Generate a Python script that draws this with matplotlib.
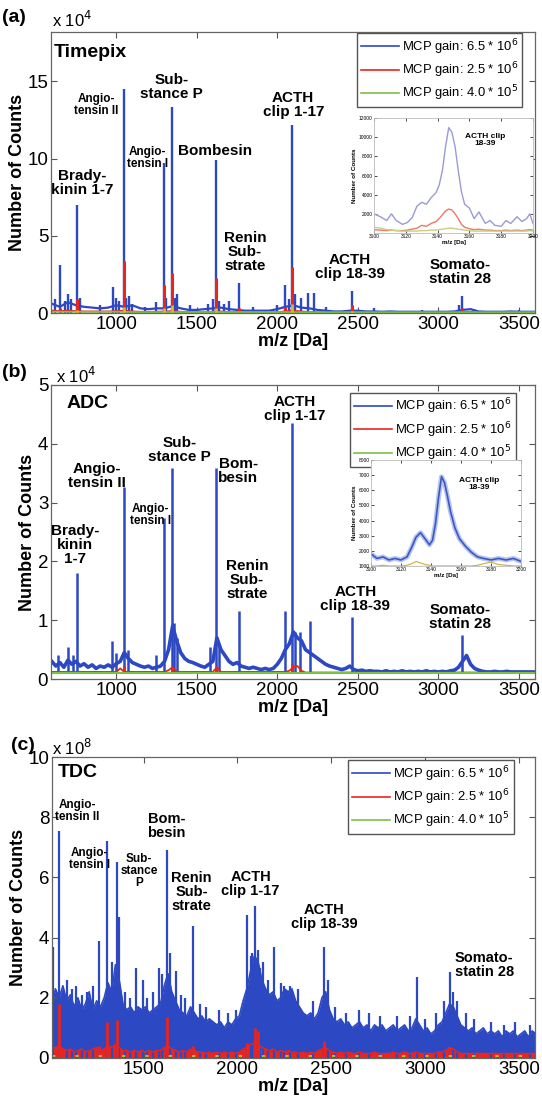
import numpy as np
import matplotlib
matplotlib.use("Agg")
import matplotlib.pyplot as plt
from matplotlib.lines import Line2D

plt.rcParams['font.family'] = ['Liberation Sans', 'DejaVu Sans']

# ---------------- colours / labels ----------------
BLUE, RED, GREEN = '#2c48c2', '#e8251f', '#7cc142'
legend_labels = ['MCP gain: 6.5 * 10$^6$', 'MCP gain: 2.5 * 10$^6$', 'MCP gain: 4.0 * 10$^5$']

# ================= Panel (a) Timepix (x 10^4) =================
a_base_mz = np.arange(600, 3601, 50)
a_blue_base = [0.6, 0.4, 0.7, 0.5, 0.4, 0.35, 0.3, 0.35, 0.5, 0.4, 0.5, 0.3, 0.25, 0.3, 0.3, 0.45,
               0.3, 0.2, 0.2, 0.25, 0.3, 0.35, 0.25, 0.2, 0.15, 0.15, 0.15, 0.15, 0.25, 0.4, 0.5, 0.35,
               0.3, 0.2, 0.15, 0.1, 0.1, 0.15, 0.15, 0.1, 0.1, 0.08, 0.1, 0.08, 0.08, 0.08, 0.08, 0.08,
               0.08, 0.08, 0.1, 0.2, 0.25, 0.1, 0.08, 0.08, 0.08, 0.1, 0.08, 0.08, 0.08]
a_red_base = [0.15, 0.12, 0.15, 0.12, 0.1, 0.1, 0.1, 0.1, 0.12, 0.15, 0.1, 0.08, 0.08, 0.08, 0.1, 0.12,
              0.08, 0.06, 0.06, 0.06, 0.08, 0.1, 0.06, 0.06, 0.05, 0.05, 0.05, 0.05, 0.06, 0.1, 0.15, 0.1,
              0.06, 0.05, 0.05, 0.04, 0.04, 0.05, 0.05, 0.04, 0.04, 0.04, 0.04, 0.04, 0.04, 0.04, 0.04, 0.04,
              0.04, 0.04, 0.04, 0.06, 0.08, 0.04, 0.04, 0.04, 0.04, 0.04, 0.04, 0.04, 0.04]
a_green_base = [0.08] * 10 + [0.06] * 20 + [0.05] * 31
a_blue_pk_mz = [620, 650, 680, 700, 720, 757, 775, 900, 980, 1000, 1020, 1046, 1062, 1080, 1100, 1180,
                1250, 1296, 1312, 1348, 1365, 1380, 1460, 1570, 1600, 1620, 1640, 1670, 1700, 1760,
                1850, 2000, 2050, 2070, 2093, 2110, 2150, 2192, 2228, 2300, 2465, 2600, 2900, 3130,
                3147, 3500]
a_blue_pk_h = [0.9, 3.1, 0.8, 1.2, 0.9, 7.0, 1.0, 0.5, 1.7, 1.0, 0.8, 14.5, 1.0, 1.1, 0.6, 0.4,
               0.7, 9.7, 1.0, 13.35, 1.0, 1.2, 0.5, 0.6, 0.9, 9.9, 0.8, 0.6, 0.8, 1.95,
               0.4, 0.5, 1.8, 0.9, 12.2, 1.2, 1.0, 1.3, 1.3, 0.4, 1.45, 0.3, 0.2, 0.5,
               1.1, 0.2]
a_red_pk_mz = [650, 757, 1046, 1296, 1348, 1620, 1760, 2050, 2093, 2465, 3147]
a_red_pk_h = [0.3, 0.9, 3.35, 1.8, 2.6, 2.25, 0.35, 0.4, 3.0, 0.5, 0.3]
a_green_pk_mz = [757, 1046, 1296, 1348, 1620, 2093, 2465]
a_green_pk_h = [0.2, 0.4, 0.3, 0.5, 0.3, 0.6, 0.15]

# inset (a)
ia_mz = [3100, 3104, 3108, 3111, 3114, 3118, 3121, 3124, 3127, 3130, 3133, 3136, 3139, 3141, 3143,
         3145, 3147, 3149, 3151, 3153, 3155, 3157, 3160, 3163, 3166, 3170, 3173, 3176, 3180, 3183,
         3186, 3190, 3193, 3196, 3198, 3200]
ia_blue = [2000, 1700, 1300, 2000, 1300, 900, 1100, 1600, 2800, 3200, 3000, 3700, 4200, 5000, 6500,
           9000, 11000, 10500, 9000, 6500, 4300, 3000, 2600, 1500, 2200, 1000, 1300, 800, 700, 1300,
           1000, 1700, 1200, 1500, 2000, 1000]
ia_red = [350, 300, 250, 300, 250, 250, 300, 400, 500, 800, 700, 1000, 1200, 1500, 1900,
          2300, 2500, 2400, 2000, 1500, 900, 600, 450, 350, 400, 300, 300, 250, 250, 300,
          250, 300, 250, 300, 350, 300]
ia_green = [600, 500, 350, 300, 250, 200, 200, 200, 200, 250, 250, 300, 300, 350, 400,
            450, 500, 500, 450, 400, 350, 300, 250, 200, 200, 200, 200, 200, 200, 200,
            200, 200, 200, 200, 250, 200]

# ================= Panel (b) ADC (x 10^4) =================
b_base_mz = np.arange(600, 3601, 25)
b_blue_base = [0.3, 0.22, 0.28, 0.2, 0.32, 0.25, 0.3, 0.22, 0.26, 0.2, 0.24, 0.18, 0.22, 0.2, 0.24, 0.2, 0.26,
               0.3, 0.45, 0.35, 0.28, 0.25, 0.22, 0.2, 0.22, 0.18, 0.2, 0.22, 0.3,
               0.5, 0.9, 0.65, 0.45, 0.35, 0.3, 0.28, 0.25, 0.22, 0.2, 0.25, 0.3,
               0.7, 0.5, 0.4, 0.3, 0.25, 0.28, 0.22, 0.2, 0.18, 0.2, 0.18, 0.16, 0.18, 0.16, 0.18, 0.25,
               0.35, 0.5, 0.6, 0.8, 0.7, 0.65, 0.5, 0.45, 0.4, 0.35, 0.3, 0.25,
               0.22, 0.2, 0.18, 0.16, 0.18, 0.22, 0.16, 0.14, 0.15, 0.13, 0.14, 0.13,
               0.13, 0.12, 0.14, 0.12, 0.13, 0.12, 0.14, 0.12, 0.13, 0.12, 0.13, 0.12, 0.14, 0.12, 0.13, 0.12,
               0.13, 0.12, 0.14, 0.15, 0.2, 0.3, 0.4, 0.25, 0.18, 0.15, 0.13, 0.12,
               0.12, 0.13, 0.12, 0.12, 0.13, 0.12, 0.12, 0.12, 0.12, 0.12, 0.12, 0.12]
b_red_base = [0.12] * 17 + [0.18] + [0.12] * 11 + [0.15, 0.2] + [0.12] * 10 + [0.2] + [0.12] * 17\
             + [0.14, 0.2, 0.22, 0.14] + [0.11] * 58
b_green_base = [0.1] * 121
b_blue_pk_mz = [640, 700, 730, 757, 975, 1000, 1046, 1070, 1250, 1296, 1348, 1360, 1380, 1580, 1620,
                1640, 1760, 2050, 2093, 2110, 2140, 2200, 2465, 3147]
b_blue_pk_h = [0.4, 0.55, 0.4, 1.8, 0.65, 0.45, 3.27, 0.5, 0.4, 2.73, 3.58, 0.95, 0.7, 0.55, 3.58,
               0.6, 1.15, 1.15, 4.35, 0.8, 0.8, 0.98, 1.06, 0.74]
b_red_pk_mz = [1046, 1348, 1620, 2093]
b_red_pk_h = [0.22, 0.2, 0.2, 0.25]

# inset (b)
ib_mz = [3100, 3104, 3108, 3112, 3116, 3120, 3124, 3127, 3130, 3133, 3136, 3139, 3141, 3143, 3145,
         3147, 3149, 3151, 3153, 3156, 3159, 3163, 3167, 3171, 3175, 3180, 3185, 3190, 3195, 3200]
ib_blue = [1800, 1500, 1600, 1400, 1500, 1400, 1600, 2200, 2900, 3200, 2800, 2400, 2700, 3800, 5500,
           6900, 6500, 5600, 4600, 3500, 2800, 2300, 1900, 1600, 1500, 1400, 1500, 1400, 1500, 1300]
ib_red = [1020] * 30
ib_green = [1000, 1000, 1050, 1000, 1000, 1000, 1050, 1150, 1300, 1200, 1100, 1050, 1000, 1000, 1000,
            1000, 1000, 1000, 1000, 1000, 1000, 1000, 1000, 1050, 1150, 1250, 1100, 1050, 1000, 1000]

# ================= Panel (c) TDC (x 10^8) =================
c_base_mz = np.arange(1010, 3600, 20)
c_blue_env = [1.6, 2.3, 2.0, 2.4, 1.9, 2.1, 1.7, 2.0, 1.6, 1.8, 2.2, 1.6, 1.9, 1.7, 2.0, 2.5, 2.2, 3.1,
              2.6, 1.8, 1.6, 1.7, 1.5, 1.7, 1.6, 1.7, 1.5, 1.6, 1.7, 1.8, 2.4, 2.8, 2.2, 1.9, 1.6, 1.5,
              1.4, 1.7, 1.5, 1.3, 1.4, 1.2, 1.3, 1.2, 1.1, 1.2, 1.0, 1.2, 1.1, 1.3, 1.4, 1.9, 2.3, 2.9,
              3.4, 3.2, 2.6, 2.3, 2.1, 2.2, 1.9, 2.0, 2.3, 2.2, 2.3, 1.9, 1.7, 1.5, 1.4, 1.5, 1.3, 1.5,
              2.0, 2.2, 1.6, 1.3, 1.2, 1.3, 1.1, 1.2, 1.0, 1.1, 1.2, 1.0, 1.1, 0.9, 1.1, 1.0, 1.1, 0.9,
              1.0, 1.1, 0.9, 1.0, 1.1, 0.9, 1.0, 1.3, 1.1, 0.9, 1.0, 0.8, 0.9, 1.1, 1.2, 1.5, 1.8, 1.7,
              1.4, 1.1, 1.0, 0.9, 1.0, 0.8, 0.9, 1.0, 0.8, 0.9, 0.8, 0.9, 0.7, 0.9, 0.8, 0.9, 0.7, 0.8,
              0.9, 0.7, 0.9, 0.8]
c_red_env = [0.3, 0.35, 0.4, 0.3, 0.25, 0.3, 0.2, 0.25, 0.3, 0.2, 0.25, 0.3, 0.35, 0.25, 0.3, 0.4, 0.35, 0.45,
             0.35, 0.25, 0.25, 0.2, 0.25, 0.2, 0.25, 0.2, 0.25, 0.2, 0.25, 0.25, 0.35, 0.4, 0.3, 0.25, 0.2, 0.25,
             0.2, 0.3, 0.25, 0.2, 0.2, 0.15, 0.2, 0.15, 0.2, 0.15, 0.2, 0.15, 0.2, 0.15, 0.2, 0.3, 0.35, 0.45,
             0.5, 0.45, 0.35, 0.3, 0.25, 0.3, 0.2, 0.25, 0.2, 0.25, 0.2, 0.2, 0.15, 0.2, 0.15, 0.2, 0.15, 0.25,
             0.3, 0.35, 0.25, 0.2, 0.15, 0.2, 0.15, 0.2, 0.15, 0.15, 0.2, 0.15, 0.15, 0.15, 0.2, 0.15, 0.15, 0.15,
             0.15, 0.2, 0.15, 0.15, 0.2, 0.15, 0.15, 0.2, 0.15, 0.15, 0.15, 0.15, 0.15, 0.2, 0.2, 0.25, 0.35, 0.3,
             0.2, 0.15, 0.15, 0.15, 0.15, 0.15, 0.15, 0.15, 0.15, 0.15, 0.15, 0.15, 0.15, 0.15, 0.15, 0.15, 0.15, 0.15,
             0.15, 0.15, 0.15, 0.15]
c_blue_pk_mz = [1017, 1050, 1090, 1120, 1140, 1170, 1200, 1230, 1265, 1307, 1330, 1357, 1371, 1400, 1430,
                1458, 1495, 1520, 1550, 1581, 1596, 1627, 1642, 1673, 1700, 1720, 1761, 1800, 1830, 1900,
                1950, 1990, 2050, 2070, 2080, 2092, 2107, 2120, 2138, 2160, 2193, 2230, 2250, 2280, 2320,
                2400, 2460, 2480, 2520, 2580, 2650, 2700, 2760, 2850, 2920, 2956, 3000, 3060, 3100, 3130,
                3150, 3170, 3220, 3260, 3350, 3420, 3480, 3560]
c_blue_pk_h = [3.7, 7.55, 2.6, 2.3, 2.4, 2.1, 2.2, 2.4, 3.9, 7.2, 3.2, 6.5, 4.7, 2.2, 2.0,
               3.0, 2.6, 2.0, 2.2, 3.0, 2.8, 6.9, 3.5, 2.9, 2.1, 2.0, 4.4, 1.8, 1.7, 1.6,
               1.5, 1.6, 4.75, 3.4, 3.5, 5.05, 3.6, 3.0, 3.2, 2.6, 3.7, 2.5, 2.4, 2.4, 2.3,
               1.9, 3.7, 2.6, 1.7, 1.5, 1.6, 1.5, 1.4, 1.4, 1.4, 2.7, 1.3, 1.5, 1.9, 2.85,
               2.2, 1.9, 1.5, 1.3, 1.2, 1.1, 1.2, 1.1]
c_red_pk_mz = [1050, 1265, 1307, 1357, 1627, 1761, 2050, 2092, 2107, 2460, 3130]
c_red_pk_h = [1.8, 0.4, 1.2, 1.25, 1.35, 0.4, 0.5, 1.0, 0.9, 0.55, 0.35]
c_green_base = [0.08] * 130

# ---------------- labels ----------------
a_labels = [("Brady-\nkinin 1-7", 786, 8.4, 11), ("Angio-\ntensin II", 876, 13.5, 8.5),
            ("Sub-\nstance P", 1343, 14.65, 11), ("Angio-\ntensin I", 1193, 10.05, 8.5),
            ("Bombesin", 1612, 10.5, 11), ("Renin\nSub-\nstrate", 1799, 3.95, 11),
            ("ACTH\nclip 1-17", 2099, 13.45, 11), ("ACTH\nclip 18-39", 2450, 3.0, 11),
            ("Somato-\nstatin 28", 3137, 2.65, 11)]
b_labels = [("Brady-\nkinin\n1-7", 744, 2.28, 11), ("Angio-\ntensin II", 882, 3.45, 11),
            ("Angio-\ntensin I", 1214, 2.79, 8.5), ("Sub-\nstance P", 1395, 3.9, 11),
            ("Bom-\nbesin", 1759, 3.53, 11), ("Renin\nSub-\nstrate", 1812, 1.69, 11),
            ("ACTH\nclip 1-17", 2111, 4.59, 11), ("ACTH\nclip 18-39", 2485, 1.36, 11),
            ("Somato-\nstatin 28", 3137, 1.05, 11)]
c_labels = [("Angio-\ntensin II", 1145, 8.22, 8.5), ("Angio-\ntensin I", 1213, 6.6, 8.5),
            ("Sub-\nstance\nP", 1476, 6.2, 8.5), ("Bom-\nbesin", 1623, 7.7, 10.5),
            ("Renin\nSub-\nstrate", 1755, 5.5, 10.5), ("ACTH\nclip 1-17", 2070, 5.77, 10.5),
            ("ACTH\nclip 18-39", 2460, 4.7, 10.5), ("Somato-\nstatin 28", 3314, 3.09, 10.5)]

W, H = 542, 1101
fig = plt.figure(figsize=(W / 100, H / 100), dpi=100)


def rect(l, t, r, b):
    return [l / W, 1 - b / H, (r - l) / W, (b - t) / H]


def style(ax, xt, yt, fs=13.5):
    ax.set_xticks(xt)
    ax.set_yticks(yt)
    ax.tick_params(direction='in', top=True, right=True, labelsize=fs, length=4, width=0.8,
                   colors='#555555', labelcolor='black', pad=2)
    for s in ax.spines.values():
        s.set_color('#666666')
        s.set_linewidth(0.9)


def legend(ax, x0, y0):
    hs = [Line2D([], [], color=c, lw=1.2) for c in (BLUE, RED, GREEN)]
    lg = ax.legend(hs, legend_labels, loc='upper left', bbox_to_anchor=(x0, y0), fontsize=9.4,
                   frameon=True, fancybox=False, edgecolor='#555555', framealpha=1,
                   handlelength=2.9, handletextpad=0.25, labelspacing=0.28, borderpad=0.3,
                   borderaxespad=0)
    lg.get_frame().set_linewidth(1.0)


def labels(ax, labs):
    for t, x, y, fs in labs:
        ax.text(x, y, t, ha='center', va='center', fontsize=fs, fontweight='bold',
                linespacing=1.0)


def inset_style(ax):
    ax.tick_params(direction='in', labelsize=3.5, length=2, width=0.5, pad=1, top=True, right=True)
    for s in ax.spines.values():
        s.set_color('#bbbbbb'); s.set_linewidth(0.6)
    ax.set_ylabel('Number of Counts', fontsize=4.5, fontweight='bold', labelpad=1)
    ax.set_xlabel('m/z [Da]', fontsize=4.5, fontweight='bold', labelpad=0.5)

# ---------- (a) ----------
ax = fig.add_axes(rect(51, 32, 535, 313))
ax.plot(a_base_mz, a_blue_base, color=BLUE, lw=1.6)
ax.vlines(a_blue_pk_mz, 0, a_blue_pk_h, color=BLUE, lw=1.7)
ax.plot(a_base_mz, a_red_base, color=RED, lw=1.3)
ax.vlines(a_red_pk_mz, 0, a_red_pk_h, color=RED, lw=2.2)
ax.plot(a_base_mz, a_green_base, color=GREEN, lw=1.3)
ax.vlines(a_green_pk_mz, 0, a_green_pk_h, color='#c8c030', lw=2)
ax.set_xlim(595, 3600)
ax.set_ylim(0, 18.2)
style(ax, [1000, 1500, 2000, 2500, 3000, 3500], [0, 5, 10, 15])
ax.set_ylabel('Number of Counts', fontsize=13, fontweight='bold', labelpad=1)
ax.set_xlabel('m/z [Da]', fontsize=13, fontweight='bold', labelpad=0)
ax.text(614, 16.9, 'Timepix', fontsize=14, fontweight='bold', va='center')
labels(ax, a_labels)
legend(ax, 0.632, 0.996)
fig.text(52 / W, 1 - 27 / H, 'x 10$^4$', fontsize=12)
fig.text(2 / W, 1 - 22 / H, '(a)', fontsize=14, fontweight='bold')

ia = fig.add_axes(rect(374, 118, 533, 233))
ia.plot(ia_mz, ia_blue, color='#9a9ad8', lw=1)
ia.plot(ia_mz, ia_red, color='#f07868', lw=1)
ia.plot(ia_mz, ia_green, color='#c8d080', lw=1)
ia.set_xlim(3100, 3200)
ia.set_ylim(0, 12000)
ia.set_xticks([3100, 3120, 3140, 3160, 3180, 3200])
ia.set_yticks([2000, 4000, 6000, 8000, 10000, 12000])
inset_style(ia)
ia.text(0.70, 0.81, 'ACTH clip\n18-39', transform=ia.transAxes, ha='center', va='center',
        fontsize=6, fontweight='bold', linespacing=1.0)

# ---------- (b) ----------
ax = fig.add_axes(rect(51, 385, 535, 679))
ax.plot(b_base_mz, b_blue_base, color=BLUE, lw=2.6)
ax.vlines(b_blue_pk_mz, 0.12, b_blue_pk_h, color=BLUE, lw=1.8)
ax.plot(b_base_mz, b_red_base, color=RED, lw=1.3)
ax.vlines(b_red_pk_mz, 0.1, b_red_pk_h, color=RED, lw=2)
ax.plot(b_base_mz, b_green_base, color=GREEN, lw=1.5)
ax.set_xlim(595, 3600)
ax.set_ylim(0, 5)
style(ax, [1000, 1500, 2000, 2500, 3000, 3500], [0, 1, 2, 3, 4, 5])
ax.set_ylabel('Number of Counts', fontsize=13, fontweight='bold', labelpad=1)
ax.set_xlabel('m/z [Da]', fontsize=13, fontweight='bold', labelpad=0)
ax.text(690, 4.69, 'ADC', fontsize=14, fontweight='bold', va='center')
labels(ax, b_labels)
legend(ax, 0.618, 0.973)
fig.text(56 / W, 1 - 383 / H, 'x 10$^4$', fontsize=12)
fig.text(2 / W, 1 - 377 / H, '(b)', fontsize=14, fontweight='bold')

ib = fig.add_axes(rect(371, 460, 521, 566))
ib.plot(ib_mz, ib_blue, color='#b8c4ec', lw=3.5)
ib.plot(ib_mz, ib_blue, color='#3a58c8', lw=1.2)
ib.plot(ib_mz, ib_red, color='#e85040', lw=0.8)
ib.plot(ib_mz, ib_green, color='#c8b040', lw=0.8)
ib.set_xlim(3100, 3200)
ib.set_ylim(1000, 8000)
ib.set_xticks([3100, 3120, 3140, 3160, 3180, 3200])
ib.set_yticks([1000, 2000, 3000, 4000, 5000, 6000, 7000, 8000])
inset_style(ib)
ib.text(0.72, 0.77, 'ACTH clip\n18-39', transform=ib.transAxes, ha='center', va='center',
        fontsize=6, fontweight='bold', linespacing=1.0)

# ---------- (c) ----------
ax = fig.add_axes(rect(52, 757, 535, 1058))
ax.fill_between(c_base_mz, 0, c_blue_env, color=BLUE, lw=0)
ax.plot(c_base_mz, c_blue_env, color=BLUE, lw=1.2)
ax.vlines(c_blue_pk_mz, 0, c_blue_pk_h, color=BLUE, lw=1.6)
ax.fill_between(c_base_mz, 0, c_red_env, color=RED, lw=0)
ax.plot(c_base_mz, c_red_env, color=RED, lw=1)
ax.vlines(c_red_pk_mz, 0, c_red_pk_h, color=RED, lw=2)
ax.plot(c_base_mz, c_green_base, color='#b8d040', lw=1.2, ls=(0, (2, 12)))
ax.set_xlim(1012, 3585)
ax.set_ylim(0, 10)
style(ax, [1500, 2000, 2500, 3000, 3500], [0, 2, 4, 6, 8, 10])
ax.set_ylabel('Number of Counts', fontsize=13, fontweight='bold', labelpad=1)
ax.set_xlabel('m/z [Da]', fontsize=13, fontweight='bold', labelpad=0)
ax.text(1044, 9.5, 'TDC', fontsize=14, fontweight='bold', va='center')
labels(ax, c_labels)
legend(ax, 0.613, 0.99)
fig.text(52 / W, 1 - 755 / H, 'x 10$^8$', fontsize=12)
fig.text(11 / W, 1 - 750 / H, '(c)', fontsize=14, fontweight='bold')

fig.savefig('out.png', dpi=100)
